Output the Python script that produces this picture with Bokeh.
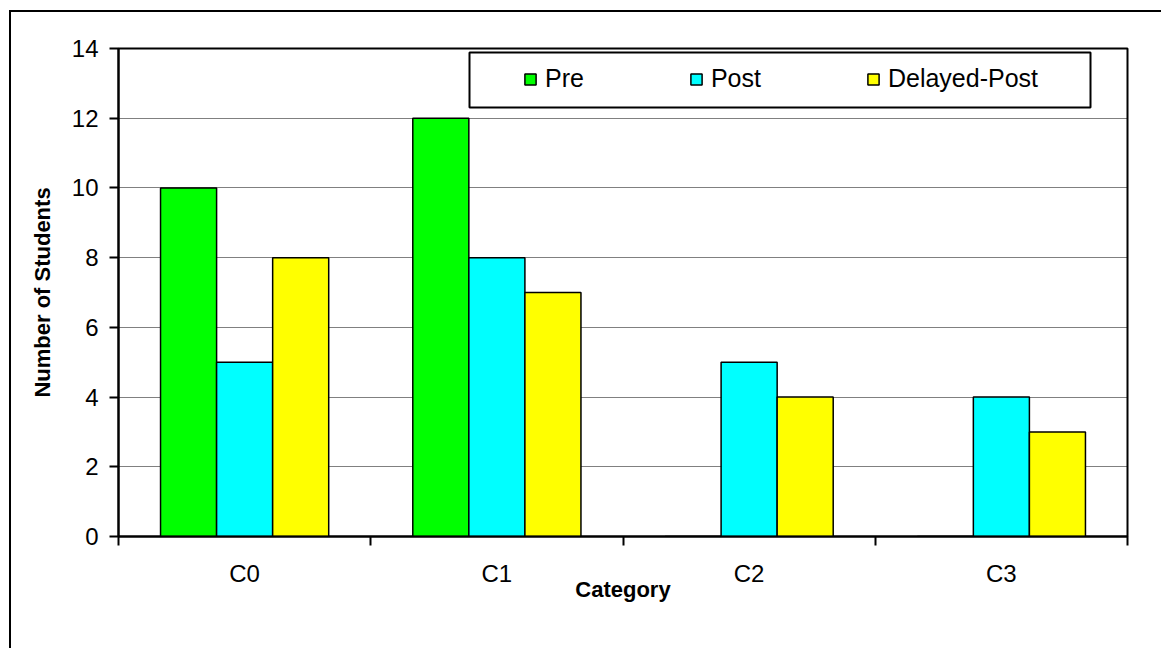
import numpy as np
from bokeh.plotting import figure
from bokeh.models import (ColumnDataSource, FixedTicker, Range1d, Legend,
                          LegendItem, BoxAnnotation)
from bokeh.embed import file_html
from bokeh.resources import INLINE

# ---- data -------------------------------------------------------------
categories = ["C0", "C1", "C2", "C3"]
pre = [10, 12, 0, 0]
post = [5, 8, 5, 4]
delayed_post = [8, 7, 4, 3]
series_names = ["Pre", "Post", "Delayed-Post"]
series_colors = ["#00FF00", "#00FFFF", "#FFFF00"]
y_ticks = [0, 2, 4, 6, 8, 10, 12, 14]

FONT = "Liberation Sans"
BAR_W = 2 / 9          # three bars per unit-wide category, 150% gap

p = figure(width=1161, height=648, output_backend="svg", toolbar_location=None,
           x_range=Range1d(0, len(categories)), y_range=Range1d(0, 14),
           min_border_left=118, min_border_right=34,
           min_border_top=48, min_border_bottom=112)
p.title.visible = False
p.background_fill_color = "white"
p.border_fill_color = "white"
p.outline_line_color = "black"
p.outline_line_width = 2

# chart-area border (top and left edges fall inside the page)
p.stylesheets = [
    ":host { position: relative; }",
    ":host::after { content: ''; position: absolute; left: 9px; top: 10px;"
    " width: 1152px; height: 638px; box-sizing: border-box;"
    " border-left: 2px solid black; border-top: 2px solid black;"
    " pointer-events: none; }",
]

# ---- bars ---------------------------------------------------------------
x_center = np.arange(len(categories)) + 0.5
renderers = []
for k, (vals, color) in enumerate(zip([pre, post, delayed_post], series_colors)):
    src = ColumnDataSource(dict(x=x_center + (k - 1) * BAR_W, top=vals))
    r = p.vbar(x="x", top="top", bottom=0, width=BAR_W, source=src,
               fill_color=color, line_color="black", line_width=1.5)
    renderers.append(r)

# ---- grid -------------------------------------------------------------
p.xgrid.visible = False
p.ygrid.ticker = FixedTicker(ticks=y_ticks[1:-1])
p.ygrid.grid_line_color = "black"
p.ygrid.grid_line_dash = "1 1"
p.ygrid.grid_line_width = 1

# ---- axes -------------------------------------------------------------
yax = p.yaxis[0]
yax.ticker = FixedTicker(ticks=y_ticks)
yax.axis_line_width = 2
yax.major_tick_out = 9
yax.major_tick_in = 0
yax.major_tick_line_width = 2
yax.minor_tick_line_color = None
yax.major_label_text_font = FONT
yax.major_label_text_font_size = "24px"
yax.major_label_text_color = "black"
yax.major_label_standoff = 11
yax.axis_label = "Number of Students"
yax.axis_label_text_font = FONT
yax.axis_label_text_font_size = "22px"
yax.axis_label_text_font_style = "bold"
yax.axis_label_text_color = "black"
yax.axis_label_standoff = 14

xax = p.xaxis[0]
xax.ticker = FixedTicker(ticks=list(x_center),
                         minor_ticks=list(range(len(categories) + 1)))
xax.major_label_overrides = {float(c): lab for c, lab in zip(x_center, categories)}
xax.axis_line_width = 2
xax.major_tick_out = 0
xax.major_tick_in = 0
xax.minor_tick_out = 9
xax.minor_tick_in = 0
xax.minor_tick_line_width = 2
xax.minor_tick_line_color = "black"
xax.major_label_text_font = FONT
xax.major_label_text_font_size = "24px"
xax.major_label_text_color = "black"
xax.major_label_standoff = 14
xax.axis_label = "Category"
xax.axis_label_text_font = FONT
xax.axis_label_text_font_size = "22px"
xax.axis_label_text_font_style = "bold"
xax.axis_label_text_color = "black"
xax.axis_label_standoff = -13

# ---- legend -----------------------------------------------------------
p.add_layout(BoxAnnotation(left=469, right=1090, top=52, bottom=107,
                           left_units="canvas", right_units="canvas",
                           top_units="canvas", bottom_units="canvas",
                           fill_color="white", fill_alpha=1,
                           line_color="black", line_width=2, line_alpha=1))

legend = Legend(items=[LegendItem(label=n, renderers=[r])
                       for n, r in zip(series_names, renderers)],
                location=(405, 443), orientation="horizontal",
                glyph_width=14, glyph_height=14, label_standoff=8,
                spacing=105, padding=0, margin=0, label_height=28,
                border_line_color=None, background_fill_alpha=0,
                label_text_font=FONT, label_text_font_size="25px",
                label_text_color="black")
p.add_layout(legend)

open("out.html", "w").write(file_html(p, INLINE))
